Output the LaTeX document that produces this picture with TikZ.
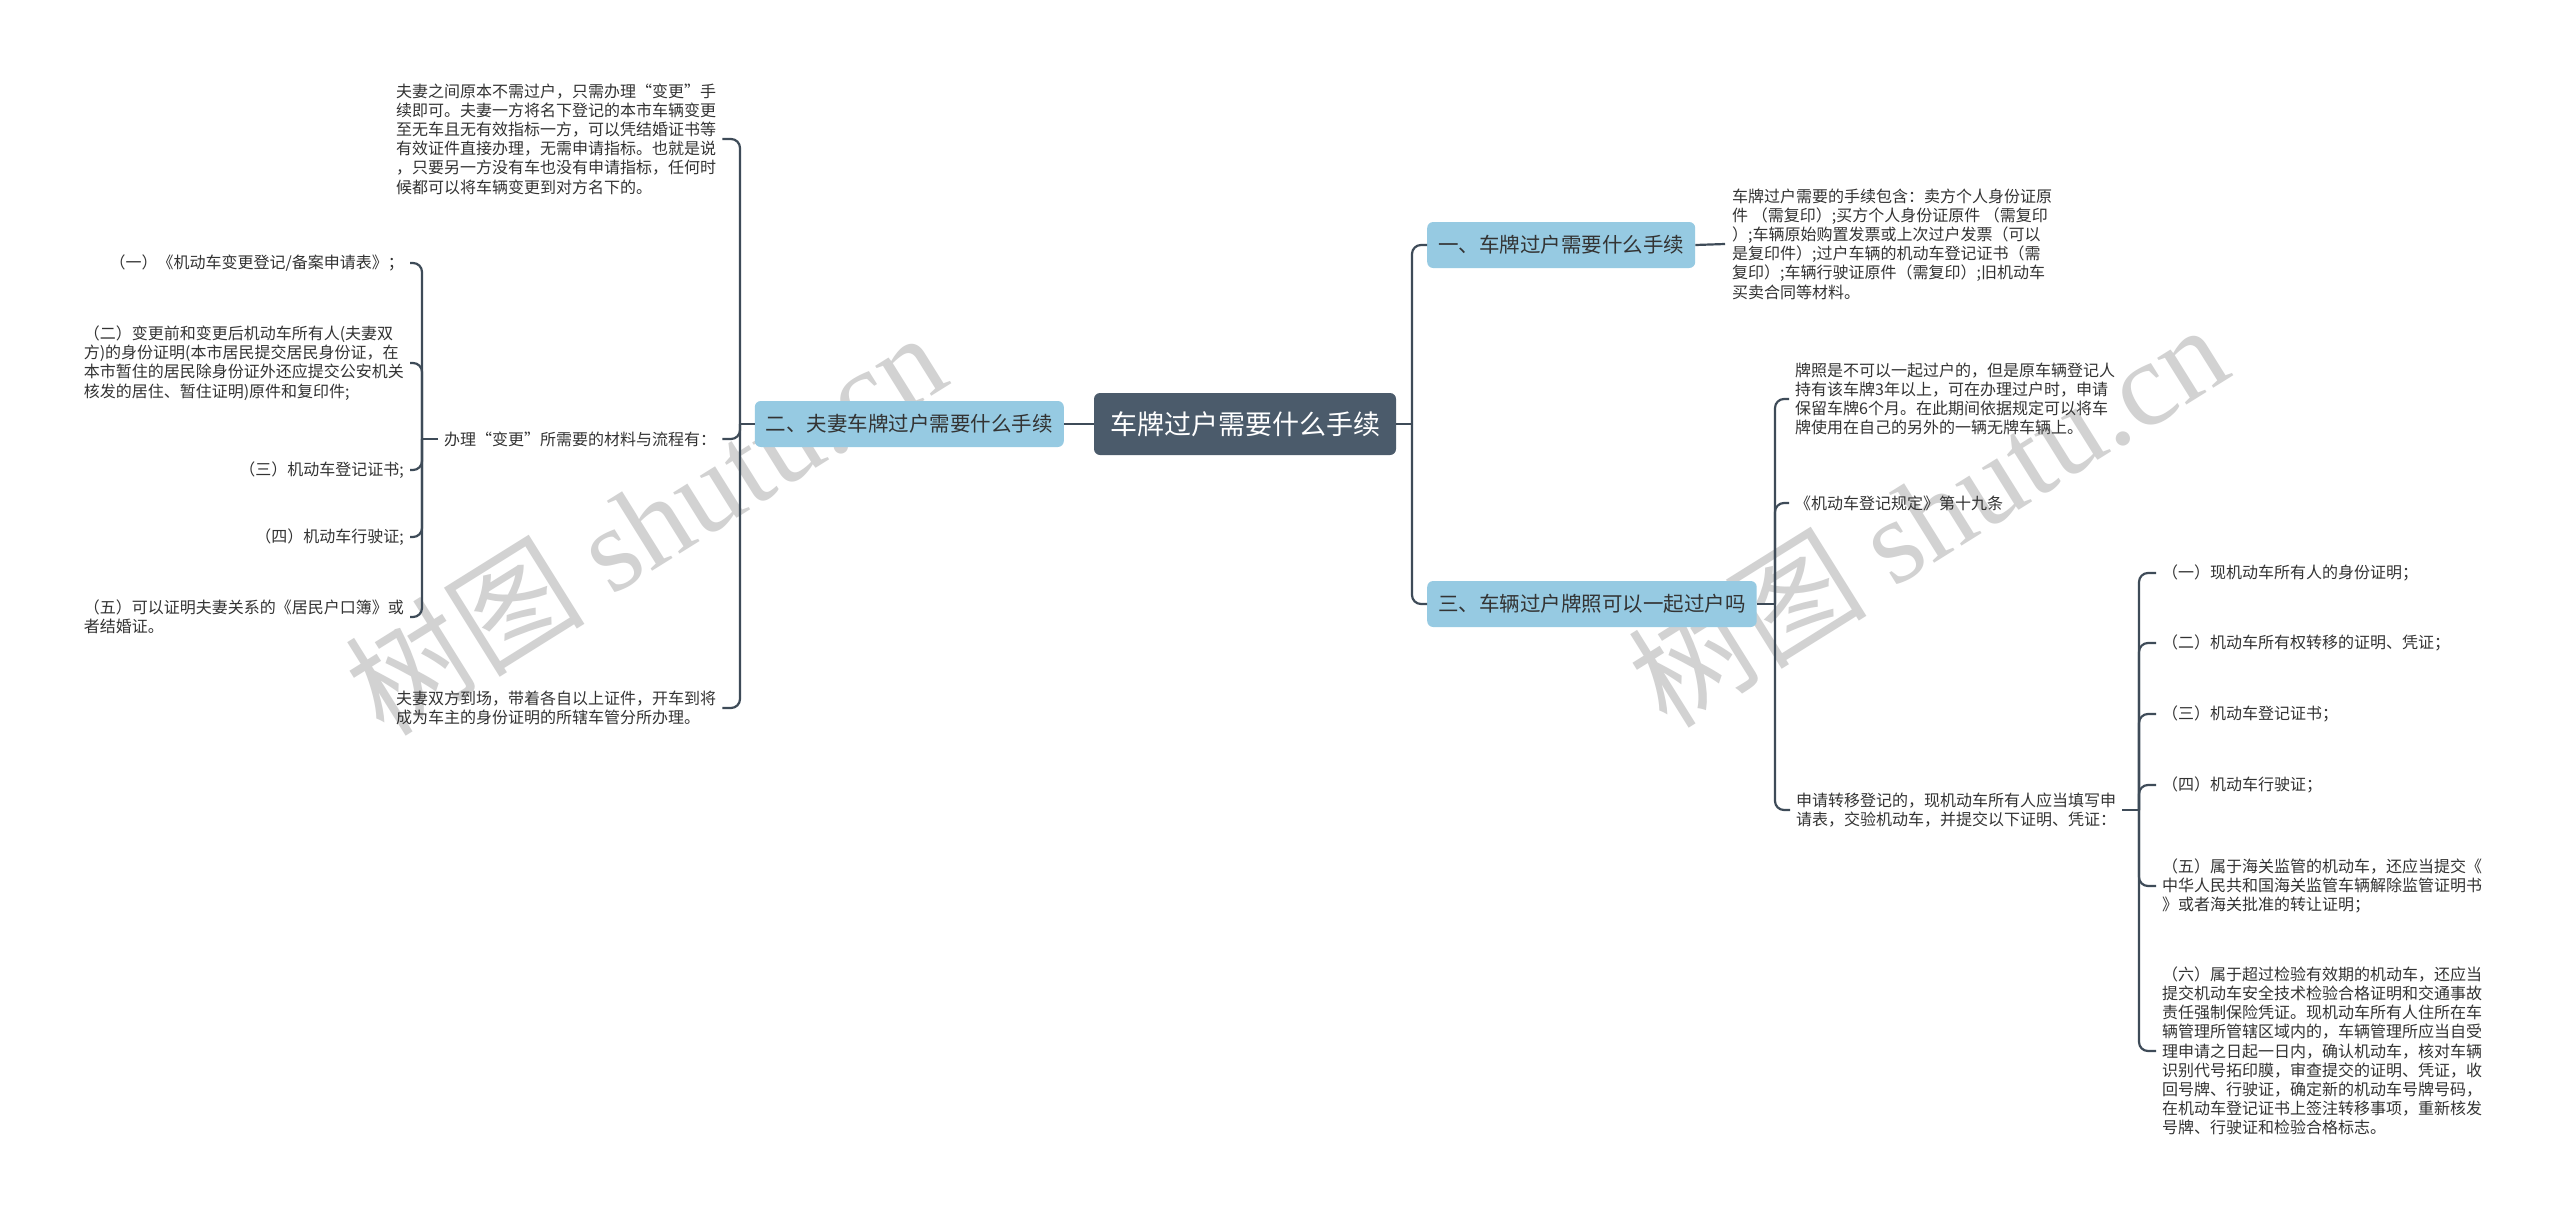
\documentclass[tikz,border=0pt]{standalone}
\usepackage{fontspec}
\setmainfont{Noto Sans CJK SC}
\newfontfamily\wmfont{Liberation Serif}
\definecolor{lc}{HTML}{3E4B58}
\definecolor{rootc}{HTML}{4B5B6B}
\definecolor{brc}{HTML}{96CAE2}
\definecolor{tc}{HTML}{333333}
\definecolor{wmc}{HTML}{D2D2D2}
\begin{document}
\begin{tikzpicture}[x=1pt,y=-1pt,
  conn/.style={draw=lc,line width=2.2pt,rounded corners=9pt},
  txt/.style={inner sep=0pt,align=left,text=tc,font=\fontsize{16}{19.2}\selectfont},
  rootbox/.style={fill=rootc,rounded corners=6pt,text=white,font=\fontsize{27}{30}\selectfont,inner xsep=16pt,inner ysep=0pt,minimum height=62pt},
  brbox/.style={fill=brc,rounded corners=6pt,text=tc,font=\fontsize{20.5}{24}\selectfont,inner xsep=11pt,inner ysep=0pt,minimum height=46pt},
  wm/.style={text=wmc,rotate=32,font=\fontsize{120}{130}\selectfont}]
\useasboundingbox (0,0) rectangle (2560,1221);
\fill[white] (0,0) rectangle (2560,1221);

% watermarks
\node[wm] (wm1) at (645,522) {树图 {\wmfont shutu.cn}};
\node[wm] (wm2) at (1927,514) {树图 {\wmfont shutu.cn}};

% main nodes
\node[rootbox] (root) at (1245,424) {车牌过户需要什么手续};
\node[brbox,anchor=west] (b1) at (1427,245) {一、车牌过户需要什么手续};
\node[brbox,anchor=west] (b3) at (1427,604) {三、车辆过户牌照可以一起过户吗};
\node[brbox,anchor=east] (b2) at (1064,424) {二、夫妻车牌过户需要什么手续};

% right: branch 1 child
\node[txt,anchor=west] (n1a) at (1732,244) {车牌过户需要的手续包含：卖方个人身份证原\\
件 （需复印）;买方个人身份证原件 （需复印\\
）;车辆原始购置发票或上次过户发票（可以\\
是复印件）;过户车辆的机动车登记证书（需\\
复印）;车辆行驶证原件（需复印）;旧机动车\\
买卖合同等材料。};

% right: branch 3 children
\node[txt,anchor=west] (n3a) at (1795,399) {牌照是不可以一起过户的，但是原车辆登记人\\
持有该车牌3年以上，可在办理过户时，申请\\
保留车牌6个月。在此期间依据规定可以将车\\
牌使用在自己的另外的一辆无牌车辆上。};
\node[txt,anchor=west] (n3b) at (1795,503) {《机动车登记规定》第十九条};
\node[txt,anchor=west] (n3c) at (1796,810) {申请转移登记的，现机动车所有人应当填写申\\
请表，交验机动车，并提交以下证明、凭证：};

% children of n3c
\node[txt,anchor=west] (c1) at (2162,573) {（一）现机动车所有人的身份证明；};
\node[txt,anchor=west] (c2) at (2162,643) {（二）机动车所有权转移的证明、凭证；};
\node[txt,anchor=west] (c3) at (2162,714) {（三）机动车登记证书；};
\node[txt,anchor=west] (c4) at (2162,785) {（四）机动车行驶证；};
\node[txt,anchor=west] (c5) at (2162,886) {（五）属于海关监管的机动车，还应当提交《\\
中华人民共和国海关监管车辆解除监管证明书\\
》或者海关批准的转让证明；};
\node[txt,anchor=west] (c6) at (2162,1051) {（六）属于超过检验有效期的机动车，还应当\\
提交机动车安全技术检验合格证明和交通事故\\
责任强制保险凭证。现机动车所有人住所在车\\
辆管理所管辖区域内的，车辆管理所应当自受\\
理申请之日起一日内，确认机动车，核对车辆\\
识别代号拓印膜，审查提交的证明、凭证，收\\
回号牌、行驶证，确定新的机动车号牌号码，\\
在机动车登记证书上签注转移事项，重新核发\\
号牌、行驶证和检验合格标志。};

% left: branch 2 children
\node[txt,anchor=west] (L1) at (396,139) {夫妻之间原本不需过户，只需办理“变更”手\\
续即可。夫妻一方将名下登记的本市车辆变更\\
至无车且无有效指标一方，可以凭结婚证书等\\
有效证件直接办理，无需申请指标。也就是说\\
，只要另一方没有车也没有申请指标，任何时\\
候都可以将车辆变更到对方名下的。};
\node[txt,anchor=west] (L2) at (444,439) {办理“变更”所需要的材料与流程有：};
\node[txt,anchor=west] (L3) at (396,708) {夫妻双方到场，带着各自以上证件，开车到将\\
成为车主的身份证明的所辖车管分所办理。};

% children of L2
\node[txt,anchor=east] (s1) at (404,263) {（一）《机动车变更登记/备案申请表》；};
\node[txt,anchor=east] (s2) at (404,363) {（二）变更前和变更后机动车所有人(夫妻双\\
方)的身份证明(本市居民提交居民身份证，在\\
本市暂住的居民除身份证外还应提交公安机关\\
核发的居住、暂住证明)原件和复印件;};
\node[txt,anchor=east] (s3) at (404,470) {（三）机动车登记证书;};
\node[txt,anchor=east] (s4) at (404,537) {（四）机动车行驶证;};
\node[txt,anchor=east] (s5) at (404,617) {（五）可以证明夫妻关系的《居民户口簿》或\\
者结婚证。};

% junctions
\coordinate (j0) at (1412,424);
\coordinate (j2) at (740,424);
\coordinate (j3) at (1775,604);
\coordinate (j4) at (2139,810);
\coordinate (j5) at (422,439);

% connectors
\draw[conn] (root.east) -- (j0);
\draw[conn] (j0) |- (b1.west);
\draw[conn] (j0) |- (b3.west);
\draw[conn] (root.west) -- (b2.east);
\draw[conn] (b1.east) -- ([xshift=-7pt]n1a.west);

\draw[conn] (b3.east) -- (j3);
\draw[conn] (j3) |- ([xshift=-6pt]n3a.west);
\draw[conn] (j3) |- ([xshift=-6pt]n3b.west);
\draw[conn] (j3) |- ([xshift=-6pt]n3c.west);

\draw[conn] ([xshift=6pt]n3c.east) -- (j4);
\foreach \c in {c1,c2,c3,c4,c5,c6}{
  \draw[conn] (j4) |- ([xshift=-6pt]\c.west);
}

\draw[conn] (b2.west) -- (j2);
\draw[conn] (j2) |- ([xshift=6pt]L1.east);
\draw[conn] (j2) |- ([xshift=6pt]L2.east);
\draw[conn] (j2) |- ([xshift=6pt]L3.east);

\draw[conn] ([xshift=-6pt]L2.west) -- (j5);
\foreach \s in {s1,s2,s3,s4,s5}{
  \draw[conn] (j5) |- ([xshift=6pt]\s.east);
}
\end{tikzpicture}
\end{document}
